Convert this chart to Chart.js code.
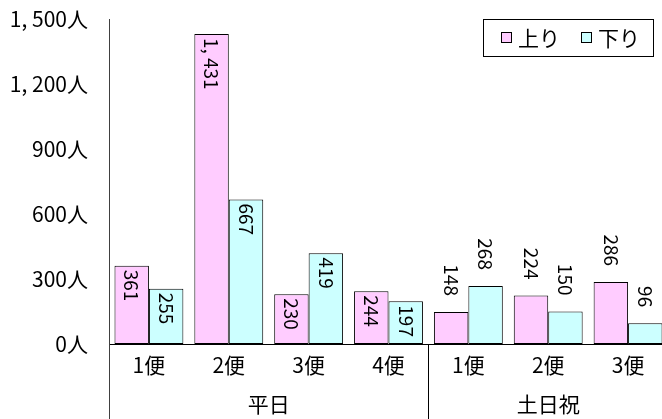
<!DOCTYPE html>
<html>
<head>
<meta charset="utf-8">
<script src="https://cdn.jsdelivr.net/npm/chart.js@4"></script>
<style>
  html, body { margin: 0; padding: 0; background: #fff; overflow: hidden; }
</style>
</head>
<body>
<canvas id="chart" width="670" height="419"></canvas>
<script>
// categories and groups
const categories = ['1便', '2便', '3便', '4便', '1便', '2便', '3便'];
const groups = ['平日', '土日祝'];
const groupSizes = [4, 3];

// series
const seriesNames = ['上り', '下り'];
const upValues = [361, 1431, 230, 244, 148, 224, 286];
const downValues = [255, 667, 419, 197, 268, 150, 96];
const seriesColors = ['#FFCCFF', '#CCFFFF'];

// y ticks
const yMin = 0;
const yMax = 1500;
const yStep = 300;

const FONT = '"Noto Sans CJK JP", "Noto Sans", sans-serif';

function fmt(v) {
  if (v >= 1000) {
    const rest = String(v % 1000).padStart(3, '0');
    return Math.floor(v / 1000) + ', ' + rest;
  }
  return String(v);
}

// labels inside (weekday) or above (weekend) the bars, text rotated
const barLabels = {
  id: 'barLabels',
  afterDatasetsDraw(chart) {
    const ctx = chart.ctx;
    ctx.save();
    ctx.font = '19px ' + FONT;
    ctx.fillStyle = '#000';
    ctx.textBaseline = 'middle';
    chart.data.datasets.forEach((ds, di) => {
      const meta = chart.getDatasetMeta(di);
      meta.data.forEach((bar, i) => {
        const outside = i >= groupSizes[0];
        const txt = fmt(ds.data[i]);
        ctx.save();
        ctx.translate(bar.x, bar.y);
        ctx.rotate(Math.PI / 2);
        if (outside) {
          ctx.textAlign = 'right';
          ctx.fillText(txt, -16, 0);
        } else {
          ctx.textAlign = 'left';
          ctx.fillText(txt, 4, 0);
        }
        ctx.restore();
      });
    });
    ctx.restore();
  }
};

// group labels and separators below the axis
const groupAxis = {
  id: 'groupAxis',
  afterDraw(chart) {
    const ctx = chart.ctx;
    const area = chart.chartArea;
    const bottom = chart.height;
    const step = (area.right - area.left) / categories.length;
    ctx.save();
    ctx.strokeStyle = '#000';
    ctx.lineWidth = 1;
    let start = 0;
    groupSizes.forEach((n, g) => {
      const left = area.left + start * step;
      const right = left + n * step;
      if (g > 0) {
        ctx.beginPath();
        ctx.moveTo(Math.round(left) + 0.5, area.bottom);
        ctx.lineTo(Math.round(left) + 0.5, bottom);
        ctx.stroke();
      }
      ctx.font = '21px ' + FONT;
      ctx.fillStyle = '#000';
      ctx.textAlign = 'center';
      ctx.textBaseline = 'middle';
      ctx.fillText(groups[g], (left + right) / 2, 404);
      start += n;
    });
    // y axis line continues down through the label rows
    ctx.strokeStyle = '#404040';
    ctx.beginPath();
    ctx.moveTo(Math.round(area.left) + 0.5, area.top);
    ctx.lineTo(Math.round(area.left) + 0.5, bottom);
    ctx.stroke();
    ctx.restore();
  }
};

// legend box in the top right corner
const boxLegend = {
  id: 'boxLegend',
  afterDraw(chart) {
    const ctx = chart.ctx;
    ctx.save();
    ctx.fillStyle = '#fff';
    ctx.fillRect(483, 19, 170, 37);
    ctx.strokeStyle = '#000';
    ctx.lineWidth = 1;
    ctx.strokeRect(483.5, 19.5, 170, 37);
    ctx.font = '21px ' + FONT;
    ctx.textBaseline = 'middle';
    ctx.textAlign = 'left';
    const xs = [501, 581];
    chart.data.datasets.forEach((ds, i) => {
      ctx.fillStyle = ds.backgroundColor;
      ctx.fillRect(xs[i], 32, 11, 11);
      ctx.strokeRect(xs[i] + 0.5, 32.5, 10, 10);
      ctx.fillStyle = '#000';
      ctx.fillText(ds.label, xs[i] + 17, 38);
    });
    ctx.restore();
  }
};

new Chart(document.getElementById('chart').getContext('2d'), {
  type: 'bar',
  plugins: [barLabels, groupAxis, boxLegend],
  data: {
    labels: categories,
    datasets: [
      {
        label: seriesNames[0],
        data: upValues,
        backgroundColor: seriesColors[0],
        borderColor: '#000',
        borderWidth: 1,
        borderSkipped: false,
        categoryPercentage: 0.8625,
        barPercentage: 1.0,
      },
      {
        label: seriesNames[1],
        data: downValues,
        backgroundColor: seriesColors[1],
        borderColor: '#000',
        borderWidth: 1,
        borderSkipped: false,
        categoryPercentage: 0.8625,
        barPercentage: 1.0,
      },
    ],
  },
  options: {
    responsive: false,
    animation: false,
    layout: {
      padding: { top: 19, right: 2, left: 0, bottom: 0 },
    },
    scales: {
      x: {
        grid: { display: false },
        border: { display: true, color: '#000', width: 1 },
        ticks: {
          color: '#000',
          padding: 0,
          maxRotation: 0,
          font: { family: FONT, size: 21 },
        },
        afterFit(scale) { scale.height = 75; },
      },
      y: {
        min: yMin,
        max: yMax,
        grid: { display: false, drawTicks: false },
        border: { display: true, color: '#404040', width: 1 },
        ticks: {
          stepSize: yStep,
          padding: 21,
          color: '#000',
          font: { family: FONT, size: 21 },
          callback: function (value) {
            return fmt(value) + '人';
          },
        },
        afterFit(scale) {
          scale.width = 109;
          scale.paddingTop = 0;
          scale.paddingBottom = 0;
        },
      },
    },
    plugins: {
      legend: { display: false },
      tooltip: { enabled: false },
    },
  },
});
</script>
</body>
</html>
